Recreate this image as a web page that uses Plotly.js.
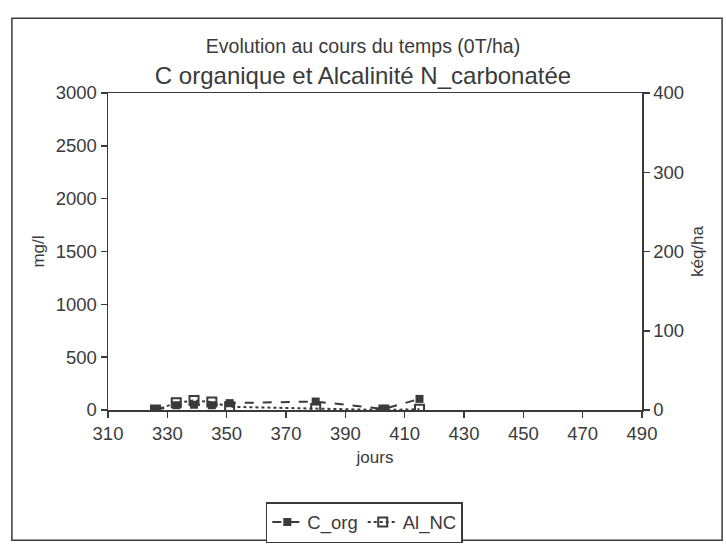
<!DOCTYPE html>
<html>
<head>
<meta charset="utf-8">
<script src="https://cdn.plot.ly/plotly-3.0.1.min.js"></script>
<style>html,body{margin:0;padding:0;background:#fff;}#chart{width:726px;height:555px;}</style>
</head>
<body>
<div id="chart"></div>
<script>
// Data
const jours = [326, 333, 339, 345, 351, 380, 403, 415];
const C_org = [0, 45, 50, 45, 65, 80, 10, 105];      // mg/l (left axis)
const Al_NC = [0, 9, 12, 10, 4, 2, 0, 1];            // kéq/ha (right axis)
const xTicks = [310, 330, 350, 370, 390, 410, 430, 450, 470, 490];
const yTicks = [0, 500, 1000, 1500, 2000, 2500, 3000];
const y2Ticks = [0, 100, 200, 300, 400];

const ink = '#3a3a3a';
const font = {family: 'Liberation Sans, Arial, sans-serif', color: ink};

const traces = [
  {
    x: jours, y: C_org, name: 'C_org', type: 'scatter', mode: 'lines+markers',
    line: {color: ink, width: 2, dash: 'dash'},
    marker: {symbol: 'square', size: 8, color: ink},
    yaxis: 'y'
  },
  {
    x: jours, y: Al_NC, name: 'Al_NC', type: 'scatter', mode: 'lines+markers',
    line: {color: ink, width: 2, dash: 'dot'},
    marker: {symbol: 'square-open', size: 9, color: ink, line: {width: 2, color: ink}},
    yaxis: 'y2'
  }
];

const layout = {
  width: 726, height: 555,
  margin: {l: 108, r: 84, t: 93, b: 136},
  paper_bgcolor: '#fff', plot_bgcolor: '#fff',
  font: Object.assign({size: 17}, font),
  title: {
    text: '<span style="font-size:19.5px">Evolution au cours du temps (0T/ha)</span><br>C organique et Alcalinité N_carbonatée',
    font: Object.assign({size: 24}, font),
    x: 0.5, xanchor: 'center', y: 0.905, yanchor: 'middle'
  },
  xaxis: {
    range: [310, 490], tickvals: xTicks, ticktext: xTicks.map(String),
    showline: true, linecolor: ink, linewidth: 1.5, mirror: true,
    ticks: 'outside', ticklen: 6, tickcolor: ink, tickwidth: 1.5,
    showgrid: false, zeroline: false,
    tickfont: Object.assign({size: 18.5}, font),
    title: {text: 'jours', font: Object.assign({size: 17}, font), standoff: 8}
  },
  yaxis: {
    range: [0, 3000], tickvals: yTicks, ticktext: yTicks.map(String),
    showline: true, linecolor: ink, linewidth: 1.5,
    ticks: 'outside', ticklen: 6, tickcolor: ink, tickwidth: 1.5,
    showgrid: false, zeroline: false,
    tickfont: Object.assign({size: 18.5}, font),
    title: {text: 'mg/l', font: Object.assign({size: 17}, font), standoff: 6}
  },
  yaxis2: {
    range: [0, 400], tickvals: y2Ticks, ticktext: y2Ticks.map(String),
    overlaying: 'y', side: 'right',
    showline: true, linecolor: ink, linewidth: 1.5,
    ticks: 'outside', ticklen: 6, tickcolor: ink, tickwidth: 1.5,
    showgrid: false, zeroline: false,
    tickfont: Object.assign({size: 18.5}, font),
    title: {text: 'kéq/ha', font: Object.assign({size: 17}, font), standoff: 8}
  },
  showlegend: true,
  legend: {
    orientation: 'h', x: 0.48, xanchor: 'center', y: -0.355, yanchor: 'middle',
    bordercolor: ink, borderwidth: 1.5, bgcolor: '#fff',
    font: Object.assign({size: 18.5}, font), itemwidth: 30
  },
  shapes: [{
    type: 'rect', xref: 'paper', yref: 'paper',
    x0: -0.18, x1: 1.15, y0: -0.411, y1: 1.236,
    line: {color: ink, width: 1.5}
  }]
};

Plotly.newPlot('chart', traces, layout, {displayModeBar: false, staticPlot: true});
</script>
</body>
</html>
